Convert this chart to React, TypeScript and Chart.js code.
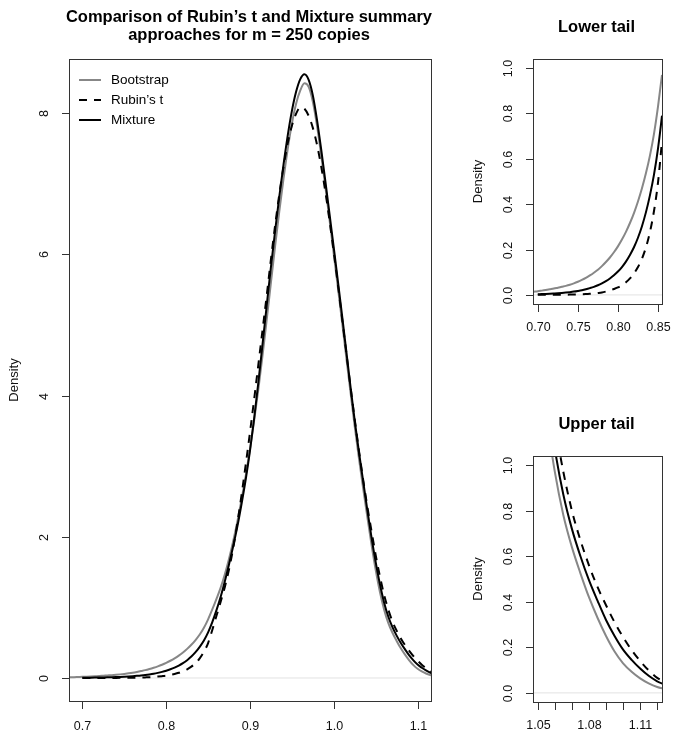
import React, { useEffect, useRef } from "react";
import { Chart, registerables } from "chart.js";

Chart.register(...registerables);

const W = 676;
const H = 739;
const FONT = '"Liberation Sans", Arial, Helvetica, sans-serif';

// ---------- data ----------
const densityX = [
  0.68, 0.685, 0.69, 0.695, 0.7, 0.705, 0.71, 0.715, 0.72, 0.725,
  0.73, 0.735, 0.74, 0.745, 0.75, 0.755, 0.76, 0.765, 0.77, 0.775,
  0.78, 0.785, 0.79, 0.795, 0.8, 0.805, 0.81, 0.815, 0.82, 0.825,
  0.83, 0.835, 0.84, 0.845, 0.85, 0.855, 0.86, 0.865, 0.87, 0.875,
  0.88, 0.885, 0.89, 0.895, 0.9, 0.905, 0.91, 0.915, 0.92, 0.925,
  0.93, 0.935, 0.94, 0.945, 0.95, 0.955, 0.96, 0.965, 0.97, 0.975,
  0.98, 0.985, 0.99, 0.995, 1.0, 1.005, 1.01, 1.015, 1.02, 1.025,
  1.03, 1.035, 1.04, 1.045, 1.05, 1.055, 1.06, 1.065, 1.07, 1.075,
  1.08, 1.085, 1.09, 1.095, 1.1, 1.105, 1.11, 1.115, 1.12, 1.125,
];

const bootstrapY = [
  0.010, 0.011, 0.012, 0.014, 0.016, 0.019, 0.022, 0.025, 0.028, 0.032,
  0.036, 0.040, 0.045, 0.051, 0.058, 0.066, 0.075, 0.086, 0.098, 0.111,
  0.127, 0.145, 0.165, 0.188, 0.214, 0.244, 0.278, 0.317, 0.361, 0.412,
  0.470, 0.537, 0.615, 0.710, 0.830, 0.970, 1.120, 1.280, 1.470, 1.690,
  1.940, 2.220, 2.530, 2.870, 3.240, 3.650, 4.090, 4.570, 5.080, 5.600,
  6.120, 6.610, 7.070, 7.490, 7.850, 8.130, 8.320, 8.420, 8.370, 8.160,
  7.820, 7.400, 6.950, 6.480, 6.000, 5.520, 5.030, 4.530, 4.040, 3.560,
  3.110, 2.690, 2.280, 1.890, 1.530, 1.220, 0.970, 0.780, 0.640, 0.525,
  0.420, 0.330, 0.250, 0.182, 0.130, 0.093, 0.064, 0.042, 0.026, 0.016,
];

const rubinY = [
  null, null, null, null, 0.0003, 0.0003, 0.0004, 0.0005, 0.0006, 0.0007,
  0.0009, 0.0011, 0.0014, 0.0018, 0.0023, 0.0030, 0.0038, 0.0050, 0.0065, 0.0085,
  0.011, 0.015, 0.020, 0.026, 0.033, 0.043, 0.056, 0.073, 0.095, 0.123,
  0.160, 0.210, 0.278, 0.370, 0.495, 0.680, 0.880, 1.080, 1.290, 1.540,
  1.840, 2.200, 2.600, 3.030, 3.480, 3.950, 4.440, 4.930, 5.420, 5.930,
  6.410, 6.850, 7.240, 7.570, 7.820, 7.990, 8.080, 8.060, 7.960, 7.790,
  7.550, 7.240, 6.880, 6.470, 6.030, 5.560, 5.080, 4.600, 4.120, 3.660,
  3.220, 2.810, 2.430, 2.080, 1.740, 1.440, 1.180, 0.970, 0.800, 0.670,
  0.560, 0.465, 0.385, 0.310, 0.245, 0.188, 0.140, 0.099, 0.066, 0.045,
];

const mixtureY = [
  null, null, null, null, 0.003, 0.0036, 0.0043, 0.0051, 0.0061, 0.0072,
  0.0086, 0.0103, 0.0123, 0.0146, 0.0175, 0.0208, 0.025, 0.030, 0.0356, 0.0425,
  0.0508, 0.0605, 0.0725, 0.0865, 0.103, 0.123, 0.147, 0.176, 0.210, 0.252,
  0.303, 0.365, 0.440, 0.530, 0.645, 0.790, 0.960, 1.150, 1.370, 1.610,
  1.870, 2.150, 2.470, 2.820, 3.220, 3.680, 4.190, 4.730, 5.280, 5.820,
  6.330, 6.820, 7.270, 7.680, 8.030, 8.300, 8.480, 8.550, 8.470, 8.250,
  7.900, 7.480, 7.030, 6.560, 6.090, 5.610, 5.120, 4.620, 4.120, 3.640,
  3.200, 2.790, 2.380, 1.990, 1.640, 1.330, 1.070, 0.870, 0.720, 0.600,
  0.495, 0.405, 0.320, 0.250, 0.190, 0.145, 0.107, 0.075, 0.051, 0.034,
];

const seriesLabels = ["Bootstrap", "Rubin\u2019s t", "Mixture"];

const mainTitle = [
  "Comparison of Rubin\u2019s t and Mixture summary",
  "approaches for m = 250 copies",
];
const lowerTitle = ["Lower tail"];
const upperTitle = ["Upper tail"];
const yAxisTitle = "Density";

const mainXTicks = [0.7, 0.8, 0.9, 1.0, 1.1];
const mainXTickLabels = ["0.7", "0.8", "0.9", "1.0", "1.1"];
const mainYTicks = [0, 2, 4, 6, 8];
const mainYTickLabels = ["0", "2", "4", "6", "8"];

const lowerXTicks = [0.7, 0.75, 0.8, 0.85];
const lowerXTickLabels = ["0.70", "0.75", "0.80", "0.85"];

const upperXTicks = [1.05, 1.06, 1.07, 1.08, 1.09, 1.1, 1.11, 1.12];
const upperXTickLabels = ["1.05", "", "", "1.08", "", "", "1.11", ""];

const tailYTicks = [0, 0.2, 0.4, 0.6, 0.8, 1.0];
const tailYTickLabels = ["0.0", "0.2", "0.4", "0.6", "0.8", "1.0"];

// ---------- panels ----------
type PanelCfg = {
  pad: { left: number; top: number; right: number; bottom: number };
  xMin: number; xMax: number; yMin: number; yMax: number;
  xTicks: number[]; xTickLabels: string[];
  yTicks: number[]; yTickLabels: string[];
  title: string[]; titleOffsets: number[];
  legend: boolean;
  xLabelOffset: number;
};

const panels: PanelCfg[] = [
  {
    pad: { left: 69, top: 59, right: W - 431, bottom: H - 701 },
    xMin: 0.684, xMax: 1.116, yMin: -0.326, yMax: 8.765,
    xTicks: mainXTicks, xTickLabels: mainXTickLabels,
    yTicks: mainYTicks, yTickLabels: mainYTickLabels,
    title: mainTitle, titleOffsets: [-37.5, -19],
    legend: true, xLabelOffset: 26,
  },
  {
    pad: { left: 533, top: 59, right: W - 662, bottom: H - 304 },
    xMin: 0.694, xMax: 0.855, yMin: -0.04, yMax: 1.04,
    xTicks: lowerXTicks, xTickLabels: lowerXTickLabels,
    yTicks: tailYTicks, yTickLabels: tailYTickLabels,
    title: lowerTitle, titleOffsets: [-27.5],
    legend: false, xLabelOffset: 24,
  },
  {
    pad: { left: 533, top: 456, right: W - 662, bottom: H - 702 },
    xMin: 1.0472, xMax: 1.1228, yMin: -0.04, yMax: 1.04,
    xTicks: upperXTicks, xTickLabels: upperXTickLabels,
    yTicks: tailYTicks, yTickLabels: tailYTickLabels,
    title: upperTitle, titleOffsets: [-27],
    legend: false, xLabelOffset: 24,
  },
];

function toPoints(ys: (number | null)[]) {
  const pts: { x: number; y: number }[] = [];
  densityX.forEach((x, i) => {
    const y = ys[i];
    if (y !== null && y !== undefined) pts.push({ x, y });
  });
  return pts;
}

function buildDatasets() {
  const common = {
    pointRadius: 0,
    fill: false,
    borderWidth: 2,
    cubicInterpolationMode: "monotone" as const,
    clip: 0,
  };
  return [
    { ...common, label: seriesLabels[0], data: toPoints(bootstrapY), borderColor: "#878787", order: 3 },
    { ...common, label: seriesLabels[1], data: toPoints(rubinY), borderColor: "#000000", borderDash: [8, 7], order: 2 },
    { ...common, label: seriesLabels[2], data: toPoints(mixtureY), borderColor: "#000000", order: 1 },
  ];
}

function makePlugin(cfg: PanelCfg) {
  return {
    id: "rStyleAxes",
    beforeDatasetsDraw(chart: any) {
      const { ctx, chartArea: a, scales } = chart;
      const y0 = scales.y.getPixelForValue(0);
      ctx.save();
      ctx.strokeStyle = "#e2e2e2";
      ctx.lineWidth = 1;
      ctx.beginPath();
      ctx.moveTo(a.left, y0);
      ctx.lineTo(a.right, y0);
      ctx.stroke();
      ctx.restore();
    },
    afterDatasetsDraw(chart: any) {
      const { ctx, chartArea: a, scales } = chart;
      const xs = scales.x;
      const ys = scales.y;
      ctx.save();
      // box
      ctx.strokeStyle = "#333333";
      ctx.lineWidth = 1;
      ctx.strokeRect(a.left + 0.5, a.top + 0.5, a.right - a.left, a.bottom - a.top);

      // x ticks
      ctx.fillStyle = "#111111";
      ctx.font = `12.5px ${FONT}`;
      ctx.textAlign = "center";
      ctx.textBaseline = "middle";
      cfg.xTicks.forEach((v, i) => {
        const px = Math.round(xs.getPixelForValue(v)) + 0.5;
        ctx.beginPath();
        ctx.moveTo(px, a.bottom + 1);
        ctx.lineTo(px, a.bottom + 8);
        ctx.stroke();
        const lab = cfg.xTickLabels[i];
        if (lab) ctx.fillText(lab, px, a.bottom + cfg.xLabelOffset);
      });

      // y ticks (labels rotated, R style)
      cfg.yTicks.forEach((v, i) => {
        const py = Math.round(ys.getPixelForValue(v)) + 0.5;
        ctx.beginPath();
        ctx.moveTo(a.left - 7, py);
        ctx.lineTo(a.left, py);
        ctx.stroke();
        const lab = cfg.yTickLabels[i];
        if (lab) {
          ctx.save();
          ctx.translate(a.left - 24, py);
          ctx.rotate(-Math.PI / 2);
          ctx.fillText(lab, 0, 0);
          ctx.restore();
        }
      });

      // y axis title
      ctx.save();
      ctx.font = `13px ${FONT}`;
      ctx.translate(a.left - 55, (a.top + a.bottom) / 2);
      ctx.rotate(-Math.PI / 2);
      ctx.fillText(yAxisTitle, 0, 0);
      ctx.restore();

      // title
      ctx.fillStyle = "#000000";
      ctx.font = `bold 16.5px ${FONT}`;
      ctx.textBaseline = "alphabetic";
      const cx = (a.left + a.right) / 2 - 1;
      cfg.title.forEach((t, i) => {
        ctx.fillText(t, cx, a.top + cfg.titleOffsets[i]);
      });

      // legend
      if (cfg.legend) {
        ctx.font = `13.5px ${FONT}`;
        ctx.textAlign = "left";
        ctx.textBaseline = "middle";
        chart.data.datasets.forEach((ds: any, i: number) => {
          const ly = a.top + 21 + i * 20;
          ctx.save();
          ctx.strokeStyle = ds.borderColor;
          ctx.lineWidth = ds.borderWidth;
          ctx.setLineDash(ds.borderDash || []);
          ctx.beginPath();
          ctx.moveTo(a.left + 10, ly);
          ctx.lineTo(a.left + 32, ly);
          ctx.stroke();
          ctx.restore();
          ctx.fillStyle = "#000000";
          ctx.fillText(ds.label, a.left + 42, ly);
        });
      }
      ctx.restore();
    },
  };
}

function Panel({ cfg }: { cfg: PanelCfg }) {
  const ref = useRef<HTMLCanvasElement>(null);
  useEffect(() => {
    const canvas = ref.current;
    if (!canvas) return;
    const chart = new Chart(canvas, {
      type: "line",
      data: { datasets: buildDatasets() as any },
      options: {
        animation: false,
        responsive: false,
        maintainAspectRatio: false,
        devicePixelRatio: 1,
        events: [],
        layout: { padding: cfg.pad },
        plugins: {
          legend: { display: false },
          tooltip: { enabled: false },
          title: { display: false },
        },
        scales: {
          x: { type: "linear", min: cfg.xMin, max: cfg.xMax, display: false },
          y: { type: "linear", min: cfg.yMin, max: cfg.yMax, display: false },
        },
      } as any,
      plugins: [makePlugin(cfg)],
    });
    return () => chart.destroy();
  }, [cfg]);
  return (
    <canvas
      ref={ref}
      width={W}
      height={H}
      style={{ position: "absolute", left: 0, top: 0, width: W, height: H }}
    />
  );
}

export default function App() {
  return (
    <div style={{ position: "absolute", left: 0, top: 0, width: W, height: H, background: "#ffffff" }}>
      {panels.map((p, i) => (
        <Panel key={i} cfg={p} />
      ))}
    </div>
  );
}
